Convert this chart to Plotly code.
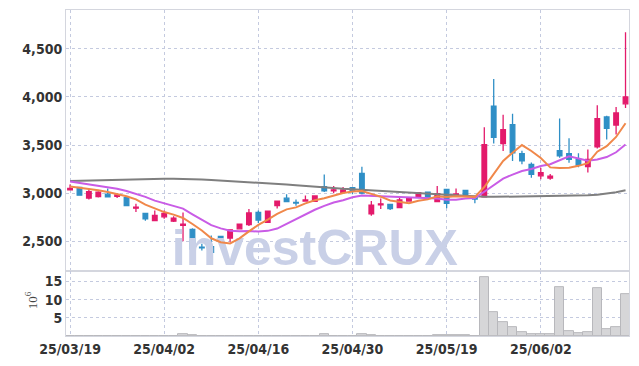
import plotly.graph_objects as go

# ---------------- data ----------------
dates = [
    "2025-03-19", "2025-03-20", "2025-03-21", "2025-03-24", "2025-03-25", "2025-03-26",
    "2025-03-27", "2025-03-28", "2025-03-31", "2025-04-01", "2025-04-02", "2025-04-03",
    "2025-04-04", "2025-04-07", "2025-04-08", "2025-04-09", "2025-04-10", "2025-04-11",
    "2025-04-14", "2025-04-15", "2025-04-16", "2025-04-17", "2025-04-18", "2025-04-21",
    "2025-04-22", "2025-04-23", "2025-04-24", "2025-04-25", "2025-04-28", "2025-04-29",
    "2025-04-30", "2025-05-02", "2025-05-07", "2025-05-08", "2025-05-09", "2025-05-12",
    "2025-05-13", "2025-05-14", "2025-05-15", "2025-05-16", "2025-05-19", "2025-05-20",
    "2025-05-21", "2025-05-22", "2025-05-23", "2025-05-26", "2025-05-27", "2025-05-28",
    "2025-05-29", "2025-05-30", "2025-06-02", "2025-06-04", "2025-06-05", "2025-06-09",
    "2025-06-10", "2025-06-11", "2025-06-12", "2025-06-13", "2025-06-16", "2025-06-17",
]

opens = [3035, 3060, 2950, 2965, 2990, 2968, 2955, 2845, 2790, 2715,
         2755, 2710, 2665, 2625, 2440, 2445, 2552, 2535, 2630, 2675,
         2800, 2697, 2870, 2948, 2905, 2918, 2915, 3068, 3025, 3008,
         3058, 3205, 2785, 2880, 2885, 2850, 2918, 2956, 3012, 2912,
         3040, 2967, 3030, 2965, 2962, 3905, 3515, 3712, 3410, 3300,
         3180, 3157, 3443, 3410, 3350, 3275, 3480, 3792, 3707, 3928]
highs = [3090, 3065, 3050, 3020, 3050, 3000, 2960, 2890, 2795, 2820,
         2820, 2760, 2800, 2635, 2475, 2560, 2555, 2625, 2685, 2835,
         2820, 2820, 2920, 2990, 2935, 2975, 2975, 3195, 3075, 3065,
         3065, 3275, 2920, 2945, 2890, 2960, 2955, 3010, 3015, 3075,
         3045, 3050, 3035, 2970, 3685, 4185, 3815, 3825, 3440, 3320,
         3265, 3200, 3775, 3570, 3415, 3455, 3912, 3805, 3895, 4670]
lows = [3030, 2975, 2935, 2955, 2958, 2950, 2865, 2805, 2715, 2710,
        2735, 2700, 2500, 2400, 2405, 2350, 2500, 2495, 2625, 2660,
        2690, 2695, 2840, 2905, 2870, 2912, 2912, 3012, 3000, 3000,
        2990, 2990, 2765, 2835, 2825, 2845, 2915, 2950, 2952, 2905,
        2845, 2960, 2980, 2895, 2955, 3515, 3437, 3335, 3300, 3160,
        3145, 3140, 3368, 3317, 3270, 3215, 3465, 3558, 3610, 3885]
closes = [3050, 2980, 3015, 3010, 2962, 2982, 2870, 2855, 2735, 2770,
          2790, 2742, 2680, 2420, 2432, 2385, 2540, 2620, 2680, 2795,
          2722, 2814, 2917, 2912, 2898, 2930, 2972, 3025, 3035, 3034,
          3020, 3000, 2875, 2890, 2840, 2930, 2945, 3005, 2958, 2995,
          2895, 2993, 2985, 2940, 3505, 3580, 3660, 3420, 3335, 3195,
          3213, 3178, 3387, 3352, 3292, 3350, 3775, 3672, 3833, 4000]

ma5 = [3070, 3058, 3045, 3030, 3013, 2990, 2968, 2936, 2881, 2842,
       2804, 2778, 2743, 2680, 2613, 2532, 2491, 2479, 2531, 2604,
       2671, 2726, 2786, 2832, 2853, 2894, 2926, 2947, 2972, 3002,
       3017, 3023, 2993, 2964, 2925, 2907, 2896, 2922, 2936, 2967,
       2960, 2969, 2965, 2962, 3064, 3201, 3334, 3421, 3500, 3438,
       3365, 3268, 3262, 3265, 3284, 3312, 3431, 3488, 3584, 3726]
ma10 = [3121, 3106, 3092, 3078, 3063, 3046, 3022, 2996, 2962, 2923,
        2897, 2873, 2840, 2781, 2728, 2668, 2635, 2611, 2606, 2608,
        2602, 2609, 2633, 2682, 2728, 2782, 2828, 2868, 2904, 2927,
        2957, 2976, 2972, 2969, 2964, 2962, 2959, 2957, 2950, 2946,
        2933, 2933, 2944, 2949, 3015, 3080, 3152, 3193, 3231, 3251,
        3283, 3301, 3341, 3383, 3361, 3338, 3350, 3375, 3425, 3505]
ma60 = [3127, 3130, 3133, 3136, 3139, 3141, 3143, 3145, 3147, 3148,
        3150, 3150, 3149, 3146, 3141, 3136, 3131, 3126, 3121, 3116,
        3111, 3106, 3099, 3091, 3083, 3074, 3066, 3059, 3052, 3046,
        3041, 3036, 3031, 3026, 3020, 3014, 3008, 3002, 2996, 2990,
        2984, 2978, 2972, 2966, 2962, 2962, 2963, 2964, 2966, 2967,
        2969, 2970, 2972, 2973, 2975, 2978, 2985, 2995, 3010, 3030]

volumes = [0.03, 0.02, 0.03, 0.02, 0.03, 0.02, 0.03, 0.02, 0.03, 0.02,
           0.03, 0.04, 0.40, 0.35, 0.04, 0.03, 0.02, 0.03, 0.02, 0.03,
           0.03, 0.02, 0.03, 0.03, 0.02, 0.03, 0.03, 0.45, 0.04, 0.03,
           0.03, 0.40, 0.30, 0.04, 0.03, 0.03, 0.02, 0.03, 0.04, 0.25,
           0.25, 0.22, 0.25, 0.04, 16.2, 6.6, 3.9, 2.5, 1.2, 0.5,
           0.5, 0.55, 13.5, 1.4, 0.9, 1.2, 13.2, 1.8, 2.5, 11.6]

tick_dates = ["2025-03-19", "2025-04-02", "2025-04-16", "2025-04-30", "2025-05-19", "2025-06-02"]
tick_labels = ["25/03/19", "25/04/02", "25/04/16", "25/04/30", "25/05/19", "25/06/02"]
price_ticks = [2500, 3000, 3500, 4000, 4500]
volume_ticks = [5, 10, 15]
watermark_text = "investCRUX"
watermark_date = "2025-04-24"
watermark_price = 2385

# ---------------- style ----------------
RED = "#e31a6b"
BLUE = "#2f8fc6"
ORANGE = "#f0884a"
PURPLE = "#c95ce6"
GRAY = "#7f7f7f"
GRID = "#c4cadf"
FRAME = "#d4d6de"
TICKFONT = dict(family="Liberation Sans Narrow, DejaVu Sans Condensed, sans-serif", size=14,
                color="#333333", weight="bold")

fig = go.Figure()

fig.add_trace(go.Scatter(
    x=[watermark_date], y=[watermark_price], text=[watermark_text], mode="text",
    textposition="middle center", cliponaxis=True, hoverinfo="skip",
    textfont=dict(family="Liberation Sans, Arial, sans-serif", size=50, color="#c9d0e7", weight="bold"),
    xaxis="x", yaxis="y",
))

fig.add_trace(go.Candlestick(
    x=dates, open=opens, high=highs, low=lows, close=closes,
    increasing=dict(line=dict(color=RED, width=1.3), fillcolor=RED),
    decreasing=dict(line=dict(color=BLUE, width=1.3), fillcolor=BLUE),
    xaxis="x", yaxis="y", hoverinfo="skip",
))

fig.add_trace(go.Scatter(x=dates, y=ma60, mode="lines", line=dict(color=GRAY, width=2), xaxis="x", yaxis="y"))
fig.add_trace(go.Scatter(x=dates, y=ma10, mode="lines", line=dict(color=PURPLE, width=2), xaxis="x", yaxis="y"))
fig.add_trace(go.Scatter(x=dates, y=ma5, mode="lines", line=dict(color=ORANGE, width=2), xaxis="x", yaxis="y"))

fig.add_trace(go.Bar(
    x=dates, y=volumes, marker=dict(color="#d6d6d8", line=dict(color="#b8b8bc", width=1)),
    xaxis="x", yaxis="y2",
))

fig.update_layout(
    width=639, height=366,
    margin=dict(l=66, r=9, t=9, b=28),
    paper_bgcolor="white", plot_bgcolor="white",
    showlegend=False, bargap=0.0,
    xaxis=dict(
        type="category", categoryorder="array", categoryarray=dates,
        range=[-0.43, 59.37], anchor="y2",
        tickvals=tick_dates, ticktext=tick_labels, tickfont=TICKFONT, ticks="",
        showgrid=True, gridcolor=GRID, griddash="dot", gridwidth=1,
        showline=True, linecolor=FRAME, linewidth=1, mirror="all",
        rangeslider=dict(visible=False), zeroline=False,
    ),
    yaxis=dict(
        domain=[0.199, 1], anchor="x", range=[2191, 4902],
        tickvals=price_ticks, tickformat=",d", tickfont=TICKFONT, ticks="",
        showgrid=True, gridcolor=GRID, griddash="dot", gridwidth=1,
        showline=True, linecolor=FRAME, linewidth=1, mirror=True, zeroline=False,
    ),
    yaxis2=dict(
        domain=[0, 0.199], anchor="x", range=[0, 17.84],
        tickvals=volume_ticks, tickfont=TICKFONT, ticks="",
        showgrid=True, gridcolor=GRID, griddash="dot", gridwidth=1,
        showline=True, linecolor=FRAME, linewidth=1, mirror=True, zeroline=False,
    ),
    annotations=[dict(
        text="10<sup>6</sup>", xref="paper", yref="paper", x=-0.0616, y=0.111,
        textangle=-90, showarrow=False, xanchor="center", yanchor="middle",
        font=dict(family="Liberation Serif, serif", size=13, color="#444444"),
    )],
)

fig.write_html(
    "out.html",
    config={"displayModeBar": False},
    post_script="document.body.style.margin='0';document.body.style.overflow='hidden';",
)
